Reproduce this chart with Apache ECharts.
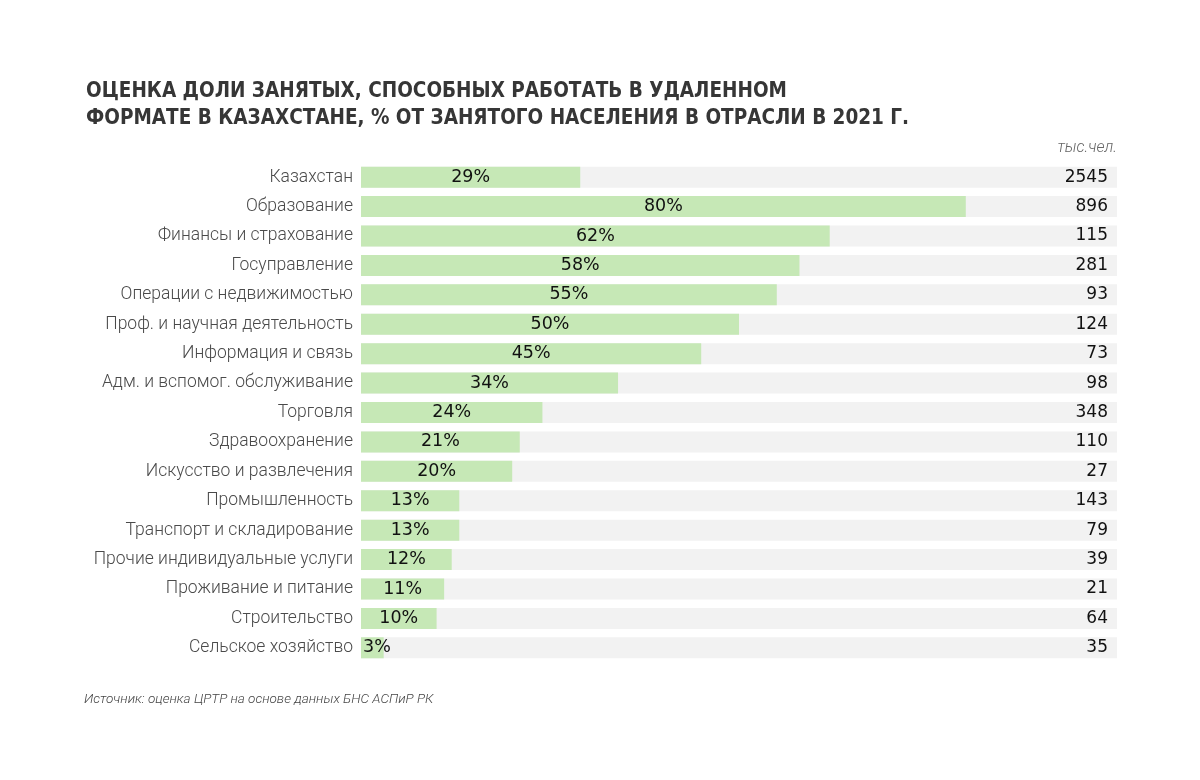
<!DOCTYPE html>
<html><head><meta charset="utf-8">
<script src="https://cdn.jsdelivr.net/npm/echarts@6/dist/echarts.min.js"></script>
<style>html,body{margin:0;padding:0;background:#fff}#c{width:1200px;height:780px}</style>
</head><body><div id="c"></div>
<script>
const categories = ["Казахстан","Образование","Финансы и страхование","Госуправление","Операции с недвижимостью","Проф. и научная деятельность","Информация и связь","Адм. и вспомог. обслуживание","Торговля","Здравоохранение","Искусство и развлечения","Промышленность","Транспорт и складирование","Прочие индивидуальные услуги","Проживание и питание","Строительство","Сельское хозяйство"];
const shares = [29,80,62,58,55,50,45,34,24,21,20,13,13,12,11,10,3];
const employed = [2545,896,115,281,93,124,73,98,348,110,27,143,79,39,21,64,35];
const fullScale = categories.map(() => 100);

const shareItems = shares.map(v => v < 5
  ? {value: v, label: {position: 'insideLeft', distance: 2}}
  : v);

const chart = echarts.init(document.getElementById('c'));
chart.setOption({
  animation: false,
  title: [{
    text: "ОЦЕНКА ДОЛИ ЗАНЯТЫХ, СПОСОБНЫХ РАБОТАТЬ В УДАЛЕННОМ\nФОРМАТЕ В КАЗАХСТАНЕ, % ОТ ЗАНЯТОГО НАСЕЛЕНИЯ В ОТРАСЛИ В 2021 Г.",
    left: 81, top: 73,
    textStyle: {fontFamily: "'DejaVu Sans Condensed', Roboto, sans-serif", fontSize: 20.5, fontWeight: 'bold', color: '#363636', lineHeight: 27}
  },{
    text: "тыс.чел.", right: 78, top: 135,
    textStyle: {fontFamily: "Roboto", fontSize: 16, fontStyle: 'italic', fontWeight: 300, color: '#666'}
  },{
    text: "Источник: оценка ЦРТР на основе данных БНС АСПиР РК", left: 79, top: 688,
    textStyle: {fontFamily: "Roboto", fontSize: 13.5, fontStyle: 'italic', fontWeight: 300, color: '#444'}
  }],
  grid: {left: 361, right: 83, top: 162.5, bottom: 117.5},
  xAxis: {type: 'value', min: 0, max: 100, show: false},
  yAxis: {
    type: 'category', data: categories, inverse: true,
    axisLine: {show: false}, axisTick: {show: false},
    axisLabel: {fontFamily: "Roboto", fontWeight: 300, fontSize: 17.5, color: '#4a4a4a', margin: 8}
  },
  series: [{
    type: 'bar', data: fullScale, barWidth: 21, barGap: '-100%', silent: true,
    itemStyle: {color: '#f2f2f2'}, z: 1,
    label: {show: true, position: 'insideRight', distance: 9,
      formatter: p => employed[p.dataIndex],
      fontFamily: "DejaVu Sans", fontSize: 17, color: '#111'}
  },{
    type: 'bar', data: shareItems, barWidth: 21, z: 2,
    itemStyle: {color: '#c6e8b6'},
    label: {show: true, position: 'inside', formatter: '{c}%',
      fontFamily: "DejaVu Sans", fontSize: 17.5, color: '#111'}
  }]
});
</script></body></html>
